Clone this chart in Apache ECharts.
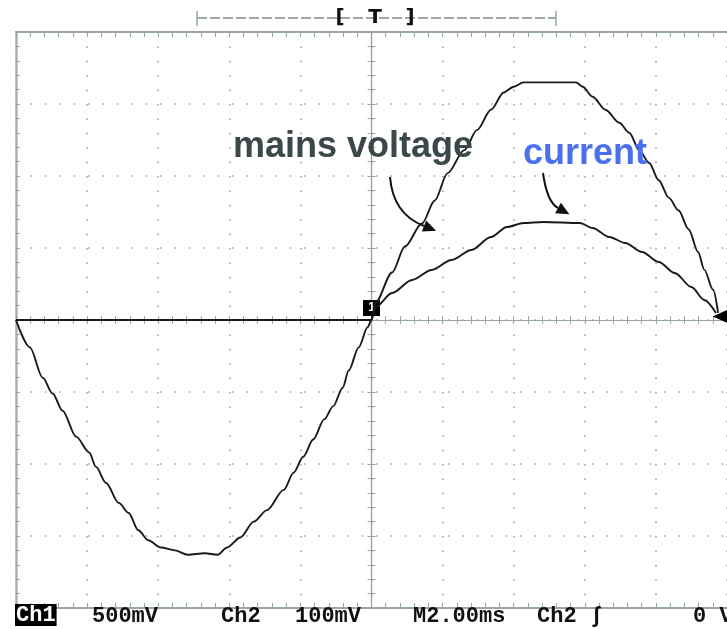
<!DOCTYPE html>
<html><head><meta charset="utf-8">
<script src="https://cdn.jsdelivr.net/npm/echarts@6/dist/echarts.min.js"></script>
<style>html,body{margin:0;padding:0;background:#fff}#c{width:727px;height:629px}</style>
</head><body><div id="c"></div>
<script>
// time in ms (2 ms/div), Ch1 voltage in V (500 mV/div), Ch2 current-sense in mV (100 mV/div)
const voltageT = [-10, -9.61, -9.25, -8.97, -8.69, -8.31, -7.94, -7.75, -7.47, -7.11, -6.83, -6.56, -6.28, -5.92, -5.53, -5.17, -4.69, -4.33, -4.06, -3.69, -3.31, -2.94, -2.47, -2.19, -1.92, -1.64, -1.33, -1.08, -0.81, -0.64, -0.36, -0.11, 0, 0.11, 0.58, 0.94, 1.42, 1.78, 2.14, 2.61, 2.97, 3.36, 3.72, 4.0, 4.28, 4.83, 5.11, 5.75, 5.94, 6.22, 6.58, 6.97, 7.25, 7.53, 7.81, 8.08, 8.36, 8.64, 8.92, 9.19, 9.36, 9.61, 9.75];
const voltageV = [0, -0.19, -0.40, -0.51, -0.63, -0.81, -0.92, -1.02, -1.13, -1.27, -1.34, -1.46, -1.53, -1.58, -1.60, -1.63, -1.62, -1.63, -1.58, -1.51, -1.40, -1.32, -1.18, -1.06, -0.95, -0.83, -0.69, -0.60, -0.47, -0.35, -0.19, -0.05, 0, 0.12, 0.33, 0.51, 0.67, 0.83, 1.02, 1.18, 1.32, 1.46, 1.58, 1.62, 1.65, 1.65, 1.65, 1.65, 1.62, 1.55, 1.46, 1.37, 1.30, 1.18, 1.09, 0.97, 0.85, 0.76, 0.63, 0.47, 0.35, 0.21, 0.05];
const currentT = [-10, 0, 0.11, 0.58, 1.14, 1.69, 2.25, 2.81, 3.36, 3.81, 4.28, 4.83, 5.86, 6.22, 6.69, 7.14, 7.61, 8.08, 8.53, 9.0, 9.36, 9.69];
const currentMv = [0, 0, 18, 37.5, 55.6, 69.4, 83.3, 97.2, 115.3, 129.2, 134.7, 136.1, 134.7, 127.8, 115.3, 106.9, 94.4, 80.6, 65.3, 45.8, 27.8, 9.7];
const statusLabels = ['500mV', 'Ch2', '100mV', 'M2.00ms', 'Ch2', 'ʃ', '0 V'];
const channelLabel = 'Ch1';
const annotationVoltage = 'mains voltage';
const annotationCurrent = 'current';

const frameColor = '#98a6a6';
const dotColor = '#9aa8a8';
const traceColor = '#1a1a1a';

const chart = echarts.init(document.getElementById('c'), null, {renderer: 'canvas'});

function frameAxisX(pos, extra) {
  return Object.assign({
    type: 'value', min: -10, max: 10, interval: 2, position: pos, gridIndex: 0,
    axisLine: {show: true, onZero: false, lineStyle: {color: frameColor, width: 2}},
    axisTick: {show: true, inside: true, length: 5, lineStyle: {color: frameColor, width: 1}},
    minorTick: {show: true, splitNumber: 5, length: 5, lineStyle: {color: frameColor, width: 1}},
    axisLabel: {show: false}, splitLine: {show: false}
  }, extra || {});
}
function zeroAxisX(inside) {
  return {
    type: 'value', min: -10, max: 10, interval: 2, position: 'bottom',
    axisLine: {show: true, onZero: true, onZeroAxisIndex: 0, lineStyle: {color: frameColor, width: 1.2}},
    axisTick: {show: true, inside: inside, length: 4, lineStyle: {color: frameColor, width: 1}},
    minorTick: {show: true, splitNumber: 5, length: 4, lineStyle: {color: frameColor, width: 1}},
    axisLabel: {show: false}, splitLine: {show: false}
  };
}
function zeroAxisY(inside) {
  return {
    type: 'value', min: -2, max: 2, interval: 0.5, position: 'left',
    axisLine: {show: true, onZero: true, onZeroAxisIndex: 0, lineStyle: {color: frameColor, width: 1.2}},
    axisTick: {show: true, inside: inside, length: 4, lineStyle: {color: frameColor, width: 1}},
    minorTick: {show: true, splitNumber: 5, length: 4, lineStyle: {color: frameColor, width: 1}},
    axisLabel: {show: false}, splitLine: {show: false}
  };
}

function arrow(p0, c, p1, color) {
  const dx = p1[0] - c[0], dy = p1[1] - c[1];
  const L = Math.hypot(dx, dy), ux = dx / L, uy = dy / L;
  const px = -uy, py = ux;
  const tip = [p1[0] + ux * 13, p1[1] + uy * 13];
  return [
    {type: 'bezierCurve', shape: {x1: p0[0], y1: p0[1], x2: p1[0], y2: p1[1], cpx1: c[0], cpy1: c[1]},
     style: {stroke: color, lineWidth: 2, fill: null}, z: 20},
    {type: 'polygon', shape: {points: [tip, [p1[0] + px * 6, p1[1] + py * 6], [p1[0] - px * 6, p1[1] - py * 6]]},
     style: {fill: color}, z: 20}
  ];
}

const statusX = [92, 221, 295, 413, 537, 590, 693];
const monoFont = 'bold 22px "Liberation Mono", "DejaVu Sans Mono", monospace';
const graphics = [];
graphics.push({type: 'text', left: 15, top: 604, z: 30,
  style: {text: channelLabel, font: monoFont, fill: '#fff', backgroundColor: '#000', padding: [0, 1, 0, 1]}});
statusLabels.forEach((t, i) => {
  graphics.push({type: 'text', x: statusX[i], y: 605, z: 30,
    style: {text: t, font: monoFont, fill: '#111', verticalAlign: 'top'}});
});
// trigger position bar at top
graphics.push({type: 'line', shape: {x1: 197, y1: 18, x2: 556, y2: 18}, style: {stroke: '#7d8b8b', lineWidth: 1.5, lineDash: [10, 3]}});
graphics.push({type: 'line', shape: {x1: 197, y1: 11, x2: 197, y2: 26}, style: {stroke: '#98a6a6', lineWidth: 1.5}});
graphics.push({type: 'line', shape: {x1: 556, y1: 11, x2: 556, y2: 26}, style: {stroke: '#98a6a6', lineWidth: 1.5}});
[['[', 340], ['T', 375], [']', 410]].forEach(([t, x]) => {
  graphics.push({type: 'text', x: x, y: 18, z: 30,
    style: {text: t, font: 'bold 20px "DejaVu Sans", sans-serif', fill: '#111', align: 'center', verticalAlign: 'middle'}});
});
// annotations
graphics.push({type: 'text', x: 233, y: 147, z: 30,
  style: {text: annotationVoltage, font: 'bold 36px "Liberation Sans", Arial, sans-serif', fill: '#3b4849', verticalAlign: 'middle'}});
graphics.push({type: 'text', x: 523, y: 154, z: 30,
  style: {text: annotationCurrent, font: 'bold 36px "Liberation Sans", Arial, sans-serif', fill: '#4a70f0', verticalAlign: 'middle'}});
graphics.push(...arrow([390, 177], [393, 214], [424, 226], '#111'));
graphics.push(...arrow([543, 173], [547, 202], [558, 208], '#111'));

const option = {
  animation: false,
  backgroundColor: '#fff',
  grid: {left: 16, top: 32, width: 720, height: 576, containLabel: false},
  xAxis: [
    frameAxisX('bottom', {splitLine: {show: true, lineStyle: {color: dotColor, width: 1.6, type: [1.6, 12.8]}}}),
    frameAxisX('top'),
    zeroAxisX(false),
    zeroAxisX(true)
  ],
  yAxis: [
    {
      type: 'value', min: -2, max: 2, interval: 0.5, position: 'left',
      axisLine: {show: true, onZero: false, lineStyle: {color: '#a8b4b4', width: 2.5}},
      axisTick: {show: true, inside: true, length: 4, lineStyle: {color: frameColor, width: 1}},
      minorTick: {show: true, splitNumber: 5, length: 4, lineStyle: {color: frameColor, width: 1}},
      axisLabel: {show: false},
      splitLine: {show: true, lineStyle: {color: dotColor, width: 1.6, type: [1.6, 12.8]}}
    },
    zeroAxisY(false),
    zeroAxisY(true),
    {type: 'value', min: -400, max: 400, interval: 100, show: false}
  ],
  graphic: graphics,
  series: [
    {
      name: 'mains voltage', type: 'line', xAxisIndex: 0, yAxisIndex: 0,
      data: voltageT.map((t, i) => [t, voltageV[i]]),
      showSymbol: false, smooth: 0.3, smoothMonotone: 'x',
      lineStyle: {color: traceColor, width: 1.9}, z: 10,
      markPoint: {
        symbol: 'rect', symbolSize: [17, 16], silent: true,
        itemStyle: {color: '#000'},
        label: {show: true, formatter: '1', color: '#fff', fontWeight: 'bold', fontSize: 12},
        data: [{coord: [0, 0.083]}]
      }
    },
    {
      name: 'current', type: 'line', xAxisIndex: 0, yAxisIndex: 3,
      data: currentT.map((t, i) => [t, currentMv[i]]),
      showSymbol: false, smooth: 0.3, smoothMonotone: 'x',
      lineStyle: {color: traceColor, width: 1.9}, z: 10,
      markPoint: {
        symbol: 'triangle', symbolRotate: 90, symbolSize: [16, 18], silent: true,
        itemStyle: {color: '#000'}, label: {show: false},
        data: [{coord: [9.85, 5]}]
      }
    }
  ]
};
chart.setOption(option);
</script>
</body></html>
